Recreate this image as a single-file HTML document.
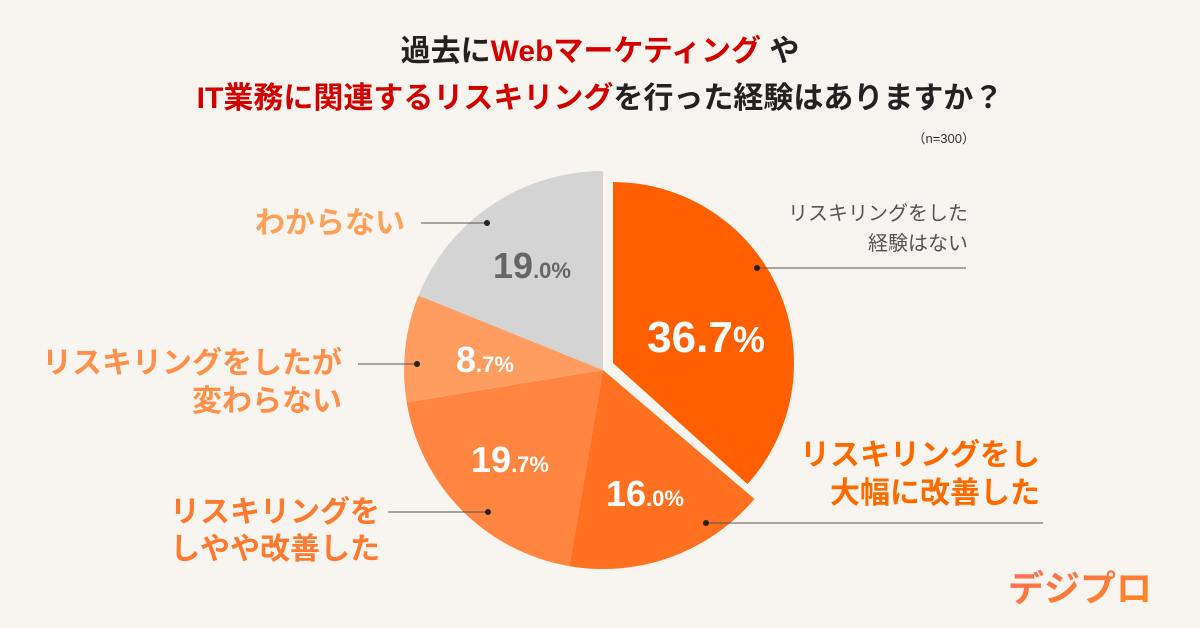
<!DOCTYPE html>
<html><head><meta charset="utf-8"><style>
body{margin:0;width:1200px;height:628px;background:#f8f5f0;overflow:hidden;font-family:"Liberation Sans","Noto Sans CJK JP",sans-serif}
svg{position:absolute;left:0;top:0}
</style></head><body>
<svg width="1200" height="628" viewBox="0 0 1200 628" font-family="Liberation Sans, Noto Sans CJK JP, sans-serif">
<defs><linearGradient id="lg" x1="0" y1="0" x2="1" y2="1"><stop offset="0" stop-color="#ff6a5a"/><stop offset="1" stop-color="#ff8a1a"/></linearGradient></defs>
<text x="600" y="61" text-anchor="middle" font-size="30" font-weight="700" fill="#222">過去に<tspan fill="#d40000">Webマーケティング</tspan> や</text>
<text x="600" y="108" text-anchor="middle" font-size="30" font-weight="700" fill="#222"><tspan fill="#d40000">IT業務に関連するリスキリング</tspan>を行った経験はありますか？</text>
<text x="975" y="143" text-anchor="end" font-size="13" fill="#333">（n=300）</text>
<!-- pie -->
<path d="M603,370 L569.5,566.2 A199,199 0 0 1 406.7,402.4 Z" fill="#ff8540"/>
<path d="M603,370 L754.5,499 A199,199 0 0 1 569.5,566.2 Z" fill="#ff7020"/>
<path d="M603,370 L406.7,402.4 A199,199 0 0 1 418.5,295.5 Z" fill="#ff9c60"/>
<path d="M603,370 L418.5,295.5 A199,199 0 0 1 603,171 Z" fill="#d4d4d4"/>
<path d="M613,363 L613,182 A181,181 0 0 1 747.5,484.1 Z" fill="#ff5f00"/>
<!-- percents -->
<text x="706" y="352" text-anchor="middle" fill="#fff" font-weight="700" font-size="44">36.7<tspan font-size="36">%</tspan></text>
<text x="645" y="506" text-anchor="middle" fill="#fff" font-weight="700" font-size="36">16<tspan font-size="22">.0%</tspan></text>
<text x="510" y="472" text-anchor="middle" fill="#fff" font-weight="700" font-size="36">19<tspan font-size="22">.7%</tspan></text>
<text x="485" y="372" text-anchor="middle" fill="#fff" font-weight="700" font-size="36">8<tspan font-size="22">.7%</tspan></text>
<text x="532" y="278" text-anchor="middle" fill="#666" font-weight="700" font-size="36">19<tspan font-size="22">.0%</tspan></text>
<!-- leader lines -->
<g stroke="#555" stroke-width="1">
<line x1="757" y1="268" x2="966" y2="268"/><line x1="706" y1="523" x2="1043" y2="523"/>
<line x1="421" y1="223" x2="487" y2="223"/><line x1="358" y1="364" x2="417" y2="364"/>
<line x1="388" y1="512" x2="488" y2="512"/></g>
<g fill="#222"><circle cx="757" cy="268" r="3"/><circle cx="706" cy="523" r="3"/><circle cx="487" cy="223" r="3"/><circle cx="417" cy="364" r="3"/><circle cx="488" cy="512" r="3"/></g>
<!-- labels -->
<text x="968" y="220" text-anchor="end" font-size="20" fill="#555">リスキリングをした</text>
<text x="968" y="250" text-anchor="end" font-size="20" fill="#555">経験はない</text>
<text x="1040" y="465" text-anchor="end" font-size="30" font-weight="700" fill="#ff6a00">リスキリングをし</text>
<text x="1040" y="503" text-anchor="end" font-size="30" font-weight="700" fill="#ff6a00">大幅に改善した</text>
<text x="405" y="233" text-anchor="end" font-size="30" font-weight="700" fill="#ff9f5a">わからない</text>
<text x="342" y="373" text-anchor="end" font-size="30" font-weight="700" fill="#ff8f4a">リスキリングをしたが</text>
<text x="342" y="411" text-anchor="end" font-size="30" font-weight="700" fill="#ff8f4a">変わらない</text>
<text x="380" y="522" text-anchor="end" font-size="30" font-weight="700" fill="#ff7a30">リスキリングを</text>
<text x="380" y="559" text-anchor="end" font-size="30" font-weight="700" fill="#ff7a30">しやや改善した</text>
<text x="1080" y="601" text-anchor="middle" font-size="36" font-weight="700" fill="url(#lg)">デジプロ</text>
</svg>
</body></html>
